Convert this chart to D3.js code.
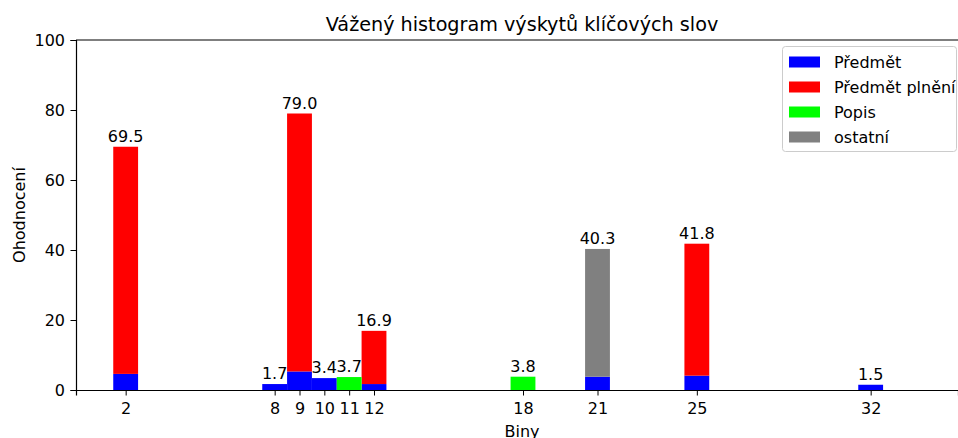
<!DOCTYPE html>
<html><head><meta charset="utf-8">
<script src="https://cdn.jsdelivr.net/npm/d3@7"></script>
<style>body{margin:0;background:#fff}svg{display:block;font-family:"DejaVu Sans",sans-serif}</style>
</head><body><svg id="c" width="958" height="438"></svg>
<script>
const bins = [2, 8, 9, 10, 11, 12, 18, 21, 25, 32];
const predmet = [4.6, 1.7, 5.3, 3.4, 0, 1.7, 0, 3.8, 4.1, 1.5];
const predmetPlneni = [64.9, 0, 73.7, 0, 0, 15.2, 0, 0, 37.7, 0];
const popis = [0, 0, 0, 0, 3.7, 0, 3.8, 0, 0, 0];
const ostatni = [0, 0, 0, 0, 0, 0, 0, 36.5, 0, 0];
const totals = [69.5, 1.7, 79.0, 3.4, 3.7, 16.9, 3.8, 40.3, 41.8, 1.5];
const seriesNames = ["Předmět", "Předmět plnění", "Popis", "ostatní"];
const seriesColors = ["#0000ff", "#ff0000", "#00ff00", "#808080"];
const yTicks = [0, 20, 40, 60, 80, 100];
const title = "Vážený histogram výskytů klíčových slov";
const xLabel = "Biny";
const yLabel = "Ohodnocení";

const FS = 16, TFS = 19.2;
const svg = d3.select("#c");
const L = 76, R = 958, T = 40, B = 390;
const ppu = (871 - 126) / 30;
const x = d3.scaleLinear().domain([0, (R - L) / ppu]).range([L, R]);
const y = d3.scaleLinear().domain([0, 100]).range([B, T]);

const rows = bins.map((b, i) => ({bin: b, s0: predmet[i], s1: predmetPlneni[i], s2: popis[i], s3: ostatni[i]}));
const stack = d3.stack().keys(["s0", "s1", "s2", "s3"])(rows);

stack.forEach((layer, k) => {
  svg.append("g").selectAll("rect").data(layer).join("rect")
    .attr("x", d => x(d.data.bin - 0.5))
    .attr("width", d => x(d.data.bin + 0.5) - x(d.data.bin - 0.5))
    .attr("y", d => y(d[1]))
    .attr("height", d => y(d[0]) - y(d[1]))
    .attr("fill", seriesColors[k]);
});

svg.append("g").selectAll("text").data(bins).join("text")
  .attr("x", d => x(d)).attr("y", (d, i) => y(totals[i]) - 5)
  .attr("text-anchor", "middle").attr("font-size", FS).attr("fill", "#000")
  .text((d, i) => totals[i].toFixed(1));

// axes
const xAxis = svg.append("g").attr("transform", `translate(0,${B})`)
  .call(d3.axisBottom(x).tickValues(bins).tickFormat(d3.format("d")).tickSizeOuter(0).tickSize(5.5).tickPadding(5.5));
const yAxis = svg.append("g").attr("transform", `translate(${L},0)`)
  .call(d3.axisLeft(y).tickValues(yTicks).tickSizeOuter(0).tickSize(5.5).tickPadding(5.5));
[xAxis, yAxis].forEach(a => {
  a.selectAll("text").attr("font-size", FS).attr("fill", "#000").attr("font-family", "DejaVu Sans");
  a.selectAll("line").attr("stroke", "#000").attr("stroke-width", 1);
  a.select(".domain").attr("stroke", "#000").attr("stroke-width", 1.2);
});
xAxis.selectAll("text").attr("dy", "0.8em");
svg.append("line").attr("x1", L).attr("x2", R).attr("y1", T).attr("y2", T).attr("stroke", "#000").attr("stroke-width", 1.2);

svg.append("text").attr("x", 522).attr("y", 31).attr("text-anchor", "middle").attr("font-size", TFS).text(title);
svg.append("text").attr("x", 522).attr("y", 437).attr("text-anchor", "middle").attr("font-size", FS).text(xLabel);
svg.append("text").attr("transform", "translate(25,215) rotate(-90)").attr("text-anchor", "middle").attr("font-size", FS).text(yLabel);

// legend
const lg = svg.append("g");
lg.append("rect").attr("x", 782.5).attr("y", 46.5).attr("width", 174).attr("height", 105).attr("rx", 3)
  .attr("fill", "#fff").attr("fill-opacity", 0.8).attr("stroke", "#ccc");
seriesNames.forEach((n, i) => {
  const cy = 62 + i * 25;
  lg.append("rect").attr("x", 789).attr("y", cy - 5.5).attr("width", 31).attr("height", 11).attr("fill", seriesColors[i]);
  lg.append("text").attr("x", 834).attr("y", cy + 6).attr("font-size", FS).text(n);
});
</script></body></html>
